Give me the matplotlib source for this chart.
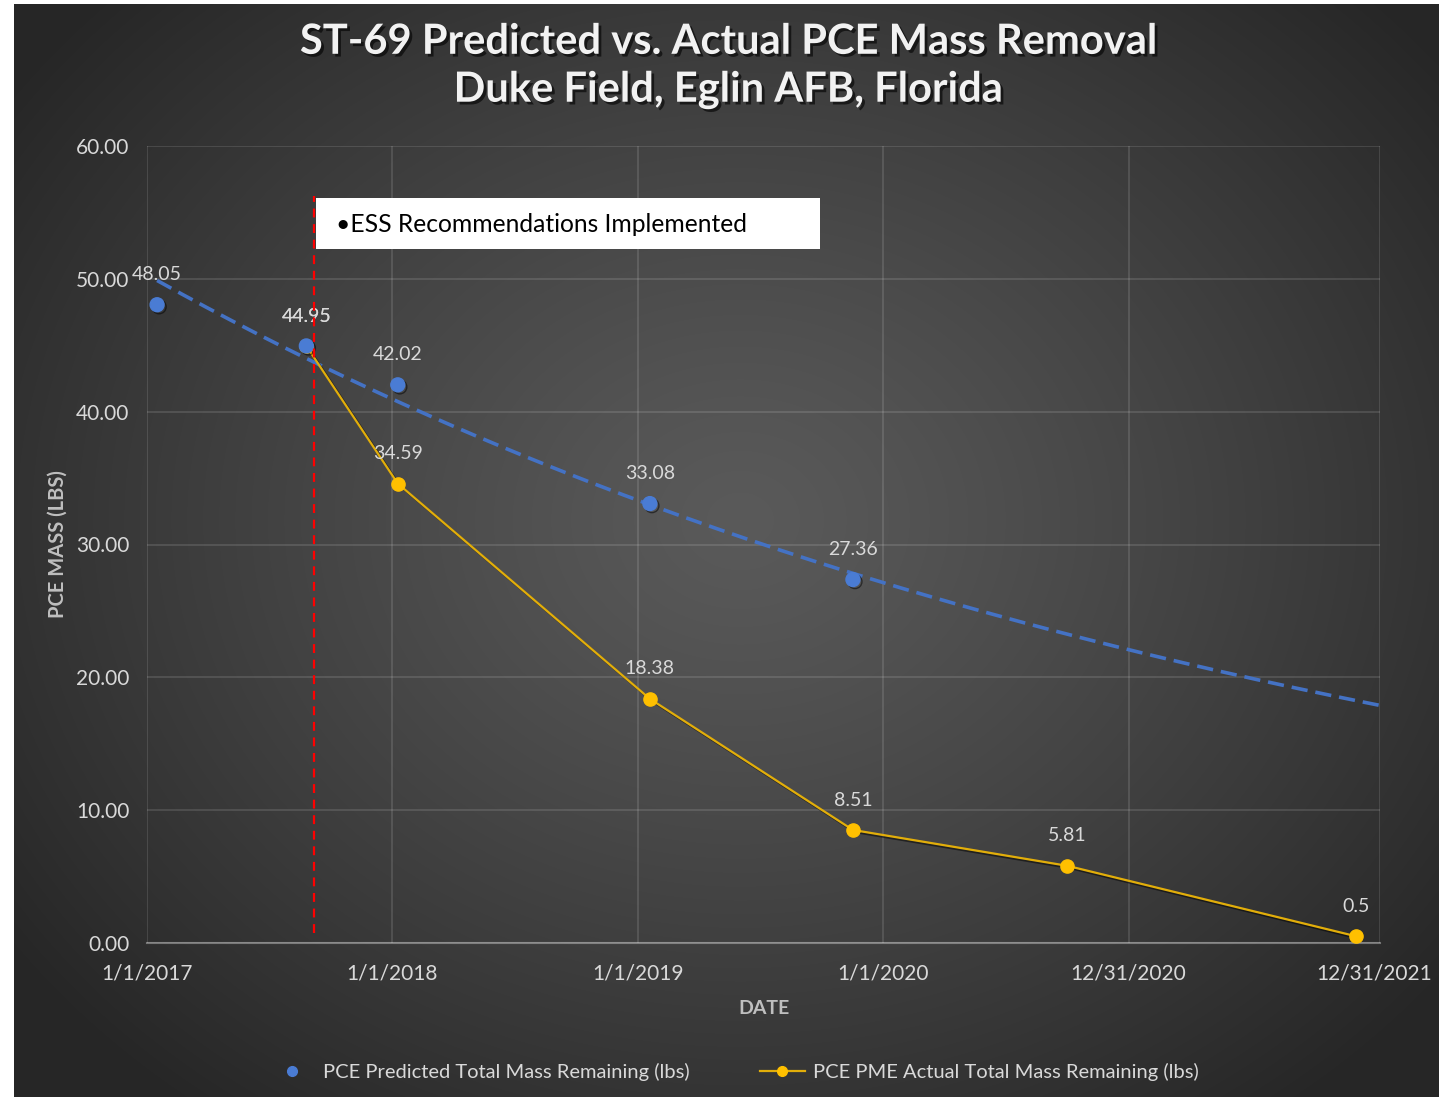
import numpy as np
import pandas as pd
import matplotlib
matplotlib.use("Agg")
import matplotlib.pyplot as plt
import matplotlib.dates as mdates
import matplotlib.patheffects as pe
from matplotlib.lines import Line2D
from matplotlib.patches import Rectangle

# ---- data ----
predicted_dates = pd.to_datetime(["2017-01-16", "2017-08-26", "2018-01-09",
                                  "2019-01-19", "2019-11-17"])
predicted_mass = [48.05, 44.95, 42.02, 33.08, 27.36]
predicted_labels = ["48.05", "44.95", "42.02", "33.08", "27.36"]

actual_dates = pd.to_datetime(["2017-08-26", "2018-01-09", "2019-01-19",
                               "2019-11-17", "2020-10-01", "2021-12-05"])
actual_mass = [44.95, 34.59, 18.38, 8.51, 5.81, 0.5]
actual_labels = ["44.95", "34.59", "18.38", "8.51", "5.81", "0.5"]

tick_dates = pd.to_datetime(["2017-01-01", "2018-01-01", "2019-01-01",
                             "2020-01-01", "2020-12-31", "2021-12-31"])
tick_labels = ["1/1/2017", "1/1/2018", "1/1/2019", "1/1/2020",
               "12/31/2020", "12/31/2021"]
y_ticks = [0, 10, 20, 30, 40, 50, 60]
y_tick_labels = ["0.00", "10.00", "20.00", "30.00", "40.00", "50.00", "60.00"]

axis_start = pd.Timestamp("2017-01-01")
axis_end = pd.Timestamp("2022-01-09")

implementation_date = pd.Timestamp("2017-09-06")
implementation_text = "\u2022ESS Recommendations Implemented"

title_lines = "ST-69 Predicted vs. Actual PCE Mass Removal\nDuke Field, Eglin AFB, Florida"
series_names = ["PCE Predicted Total Mass Remaining (lbs)",
                "PCE PME Actual Total Mass Remaining (lbs)"]

# ---- styling ----
FONT = "Lato"
BLUE = "#4A7CD4"
TREND = "#4472C4"
YELLOW = "#FFC000"
YELLOW_LINE = "#E2AE0A"
TEXT = "#D9D9D9"
GRID_ALPHA = 0.14
W, H = 1439, 1099

plt.rcParams["font.family"] = [FONT, "DejaVu Sans"]

fig = plt.figure(figsize=(W / 100, H / 100), dpi=100)
fig.patch.set_facecolor("white")

# radial gradient chart background with a thin white margin
bg = fig.add_axes([0, 0, 1, 1], zorder=-10)
yy, xx = np.mgrid[0:H, 0:W]
d = np.sqrt(((xx - 740) / 900.0) ** 2 + ((yy - 520) / 750.0) ** 2)
c0, c1 = 90 / 255, 38 / 255
val = c0 + (c1 - c0) * np.clip(d, 0, 1) ** 1.2
img = np.dstack([val, val, val])
img[:4, :, :] = 1.0
img[:, :14, :] = 1.0
img[H - 2:, :, :] = 1.0
bg.imshow(img, aspect="auto", interpolation="bilinear")
bg.set_axis_off()

ax = fig.add_axes([147 / W, 1 - 943 / H, (1380 - 147) / W, (943 - 146) / H])
ax.set_facecolor("none")

x_min = mdates.date2num(axis_start)
x_max = mdates.date2num(axis_end)
ax.set_xlim(x_min, x_max)
ax.set_ylim(0, 60)

ax.set_xticks(mdates.date2num(tick_dates))
ax.set_xticklabels(tick_labels)
ax.set_yticks(y_ticks)
ax.set_yticklabels(y_tick_labels)
ax.tick_params(axis="both", length=0, labelsize=15, labelcolor=TEXT)
ax.tick_params(axis="x", pad=14.8)
ax.tick_params(axis="y", pad=12.5)

# gridlines: horizontal at every value tick, vertical at date ticks and the plot edge
ax.grid(True, axis="y", color="white", alpha=GRID_ALPHA, linewidth=1.2)
for t in list(mdates.date2num(tick_dates[:-1])) + [x_max]:
    ax.axvline(t, color="white", alpha=GRID_ALPHA, linewidth=1.2, zorder=0.5)
for side in ["top", "right", "left"]:
    ax.spines[side].set_visible(False)
ax.spines["bottom"].set_color((1, 1, 1, 0.35))
ax.spines["bottom"].set_linewidth(1.5)

# exponential trendline through the predicted values
px = mdates.date2num(predicted_dates)
coef = np.polyfit(px, np.log(predicted_mass), 1)
tx = np.linspace(px[0], x_max, 200)
ty = np.exp(np.polyval(coef, tx))
ax.plot(tx, ty, color=TREND, linewidth=2.6, dashes=(4.5, 2.2), zorder=3)

shadow = [pe.SimpleLineShadow(offset=(1.5, -1.5), shadow_color="black", alpha=0.5), pe.Normal()]

# actual series
ax.plot(mdates.date2num(actual_dates), actual_mass, color=YELLOW_LINE,
        linewidth=1.6, zorder=4, path_effects=shadow)
ax.plot(mdates.date2num(actual_dates), actual_mass, linestyle="none",
        marker="o", markersize=9.5, markerfacecolor=YELLOW,
        markeredgecolor=YELLOW, zorder=5)

# predicted series
ax.plot(px, predicted_mass, linestyle="none", marker="o", markersize=10,
        markerfacecolor=BLUE, markeredgecolor=BLUE, zorder=6,
        path_effects=shadow)

for dte, v, lab in zip(actual_dates, actual_mass, actual_labels):
    ax.annotate(lab, (mdates.date2num(dte), v), xytext=(0, 21.5),
                textcoords="offset points", ha="center", va="center",
                fontsize=14, color=TEXT, zorder=7)
for dte, v, lab in zip(predicted_dates, predicted_mass, predicted_labels):
    ax.annotate(lab, (mdates.date2num(dte), v), xytext=(0, 21.5),
                textcoords="offset points", ha="center", va="center",
                fontsize=14, color=TEXT, zorder=7)

# implementation marker and callout
ax.plot([mdates.date2num(implementation_date)] * 2, [0.75, 56.2],
        color="#FF0000", linewidth=1.6, dashes=(4, 3), zorder=8)
fig.add_artist(Rectangle((316 / W, 1 - 249 / H), (820 - 316) / W, (249 - 198) / H,
                         transform=fig.transFigure, facecolor="white",
                         edgecolor="none", zorder=9))
fig.text(336 / W, 1 - 225 / H, implementation_text, ha="left", va="center",
         fontsize=17.7, color="black", zorder=10)

ax.set_xlabel("DATE", fontsize=14, fontweight="bold", color="#BFBFBF", labelpad=12)
ax.set_ylabel("PCE MASS (LBS)", fontsize=14.5, fontweight="bold", color="#BFBFBF", labelpad=6)

fig.text(728 / W, 1 - 66 / H, title_lines, ha="center", va="center",
         fontsize=30, fontweight="bold", color="#F2F2F2", linespacing=1.32,
         path_effects=[pe.withSimplePatchShadow(offset=(2, -2), shadow_rgbFace="black", alpha=0.6)])

handles = [
    Line2D([], [], linestyle="none", marker="o", markersize=7,
           markerfacecolor=BLUE, markeredgecolor=BLUE),
    Line2D([], [], color=YELLOW_LINE, linewidth=1.6, marker="o", markersize=7,
           markerfacecolor=YELLOW, markeredgecolor=YELLOW),
]
fig.legend(handles, series_names, loc="center", bbox_to_anchor=(734 / W, 1 - 1072 / H),
           ncol=2, frameon=False, fontsize=14.5, labelcolor=TEXT,
           columnspacing=3.5, handlelength=2.25, handletextpad=0.4)

fig.savefig("out.png", dpi=100)
